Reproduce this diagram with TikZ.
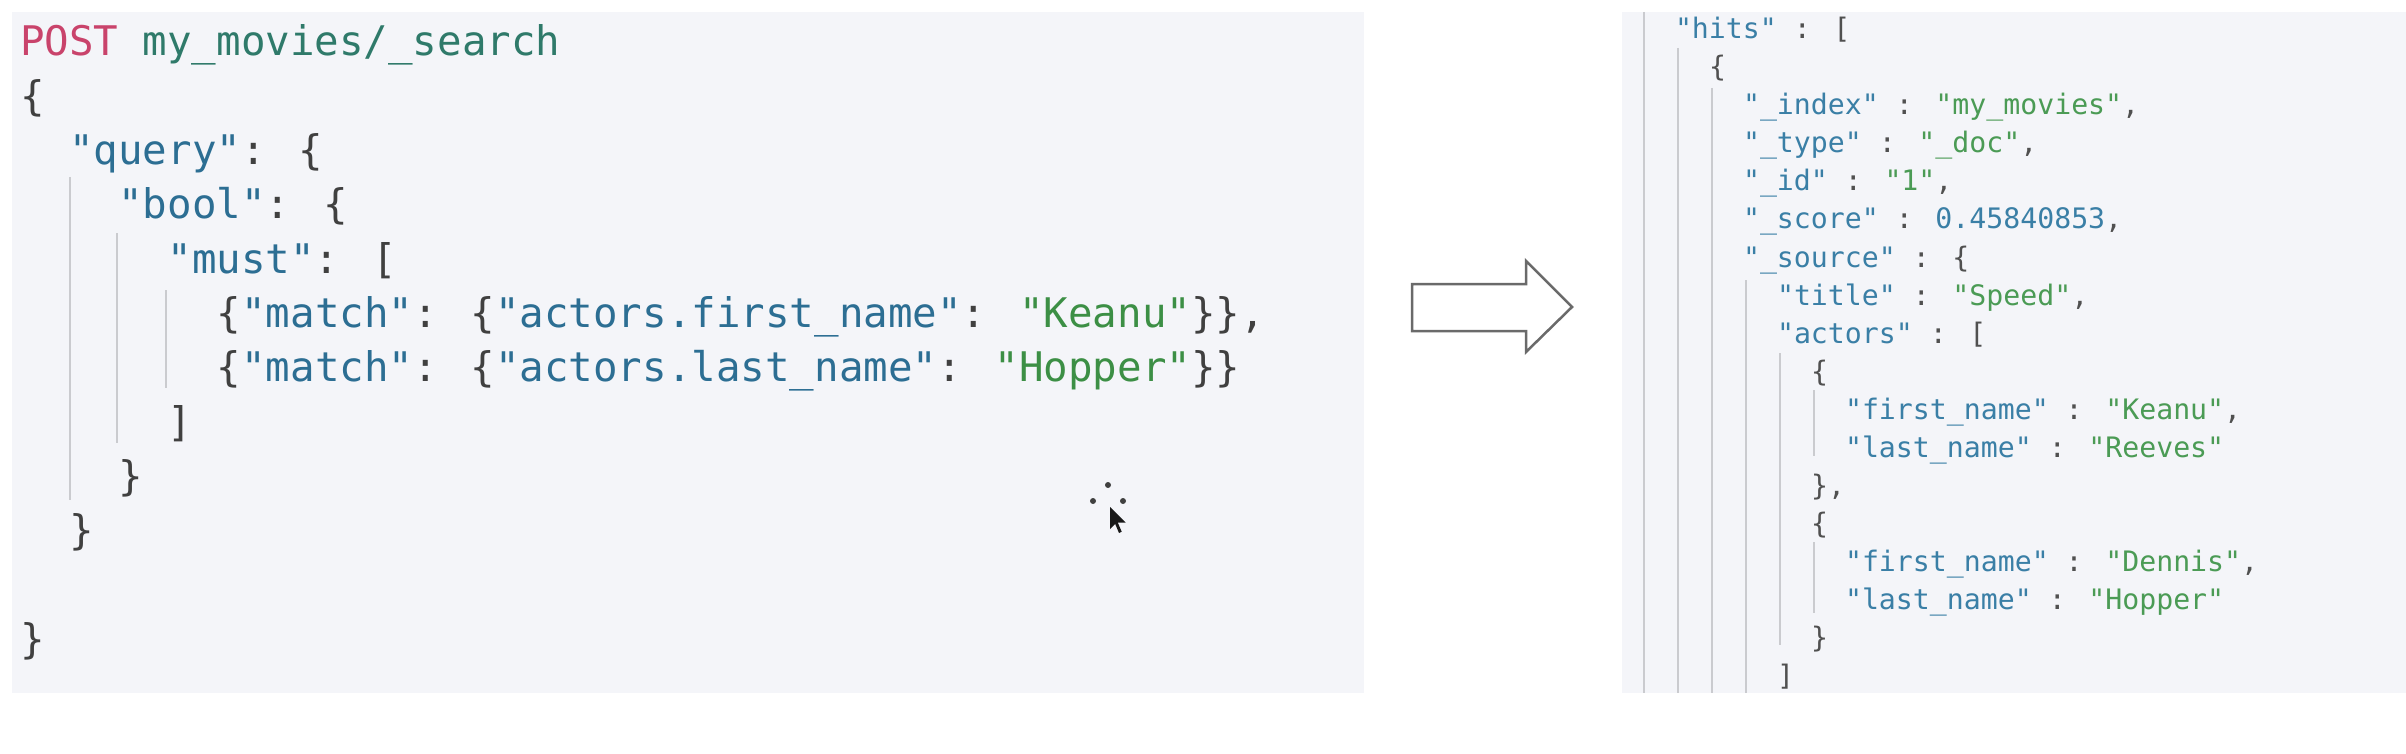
\documentclass[tikz,border=0pt]{standalone}
\usepackage{fontspec}
\newfontfamily\codefont{DejaVu Sans Mono}
\definecolor{panelbg}{HTML}{F4F5F9}
\definecolor{cpost}{HTML}{C9436B}
\definecolor{curl}{HTML}{2F7A6A}
\definecolor{ckey}{HTML}{2C6E93}
\definecolor{cstr}{HTML}{3C8F45}
\definecolor{cpun}{HTML}{404040}
\definecolor{cguide}{HTML}{CACBCF}
\definecolor{rkey}{HTML}{3A7FA6}
\definecolor{rstr}{HTML}{4B9B55}
\definecolor{rpun}{HTML}{505050}
\definecolor{arrowgray}{HTML}{6A6A6A}
\newcommand\JK[1]{\textcolor{ckey}{#1}}
\newcommand\JS[1]{\textcolor{cstr}{#1}}
\newcommand\RK[1]{\textcolor{rkey}{#1}}
\newcommand\RS[1]{\textcolor{rstr}{#1}}
\tikzset{
  codeL/.style={anchor=base west, inner sep=0pt, outer sep=0pt, text=cpun,
    font=\codefont\fontsize{40.8pt}{48pt}\selectfont},
  codeR/.style={anchor=base west, inner sep=0pt, outer sep=0pt, text=rpun,
    font=\codefont\fontsize{28.2pt}{34pt}\selectfont},
  guide/.style={draw=cguide, line width=1.6pt},
  panel/.style={fill=panelbg, draw=none}
}
\begin{document}
\begin{tikzpicture}[x=1pt, y=-1pt]
\useasboundingbox (0,0) rectangle (2406,754);
\fill[white] (0,0) rectangle (2406,754);
% panels
\path[panel] (12,12) rectangle (1364,693);
\path[panel] (1622,12) rectangle (2406,693);
% left guides
\draw[guide] (70,177) -- (70,500);
\draw[guide] (117,233) -- (117,443);
\draw[guide] (166,290) -- (166,388);
% right guides
\draw[guide] (1644,12) -- (1644,693);
\draw[guide] (1678,48) -- (1678,693);
\draw[guide] (1712,88) -- (1712,693);
\draw[guide] (1746,280) -- (1746,693);
\draw[guide] (1780,353) -- (1780,645);
\draw[guide] (1814,390) -- (1814,456);
\draw[guide] (1814,542) -- (1814,613);
% left code
\node[codeL] (L0) at (20,56) {\textcolor{cpost}{POST} \textcolor{curl}{my\_movies/\_search}};
\node[codeL] (L1) at (20,110.3) {\{};
\node[codeL] (L2) at (69.2,164.6) {\JK{"query"}: \{};
\node[codeL] (L3) at (118.4,218.9) {\JK{"bool"}: \{};
\node[codeL] (L4) at (167.6,273.2) {\JK{"must"}: [};
\node[codeL] (L5) at (216.8,327.5) {\{\JK{"match"}: \{\JK{"actors.first\_name"}: \JS{"Keanu"}\}\},};
\node[codeL] (L6) at (216.8,381.8) {\{\JK{"match"}: \{\JK{"actors.last\_name"}: \JS{"Hopper"}\}\}};
\node[codeL] (L7) at (167.6,436.1) {]};
\node[codeL] (L8) at (118.4,490.4) {\}};
\node[codeL] (L9) at (69.2,544.7) {\}};
\node[codeL] (L11) at (20,653.3) {\}};
% right code
\node[codeR] (R0) at (1675,39) {\RK{"hits"} : [};
\node[codeR] (R1) at (1709,77) {\{};
\node[codeR] (R2) at (1743,115) {\RK{"\_index"} : \RS{"my\_movies"},};
\node[codeR] (R3) at (1743,153) {\RK{"\_type"} : \RS{"\_doc"},};
\node[codeR] (R4) at (1743,191) {\RK{"\_id"} : \RS{"1"},};
\node[codeR] (R5) at (1743,229) {\RK{"\_score"} : \RK{0.45840853},};
\node[codeR] (R6) at (1743,267) {\RK{"\_source"} : \{};
\node[codeR] (R7) at (1777,305) {\RK{"title"} : \RS{"Speed"},};
\node[codeR] (R8) at (1777,343) {\RK{"actors"} : [};
\node[codeR] (R9) at (1811,381) {\{};
\node[codeR] (R10) at (1845,419) {\RK{"first\_name"} : \RS{"Keanu"},};
\node[codeR] (R11) at (1845,457) {\RK{"last\_name"} : \RS{"Reeves"}};
\node[codeR] (R12) at (1811,495) {\},};
\node[codeR] (R13) at (1811,533) {\{};
\node[codeR] (R14) at (1845,571) {\RK{"first\_name"} : \RS{"Dennis"},};
\node[codeR] (R15) at (1845,609) {\RK{"last\_name"} : \RS{"Hopper"}};
\node[codeR] (R16) at (1811,647) {\}};
\node[codeR] (R17) at (1777,685) {]};
% block arrow
\draw[draw=arrowgray, line width=2.5pt, fill=white, line join=miter]
  (1412,284) -- (1526,284) -- (1526,261) -- (1572,307) -- (1526,352)
  -- (1526,331) -- (1412,331) -- cycle;
% mouse cursor
\fill[black!75] (1108,485) circle (3);
\fill[black!75] (1093,501) circle (3);
\fill[black!75] (1123,501) circle (3);
\fill[black!90] (1110,507) -- ++(0,22) -- ++(5.2,-5) -- ++(3.8,9)
  -- ++(2.7,-1.3) -- ++(-3.9,-9.1) -- ++(7.8,0) -- cycle;
\end{tikzpicture}
\end{document}
